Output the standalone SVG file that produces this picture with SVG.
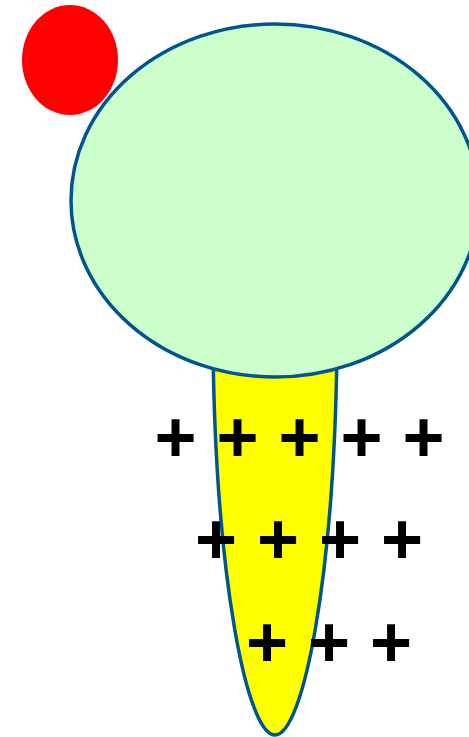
<svg xmlns="http://www.w3.org/2000/svg" width="469" height="737" viewBox="0 0 469 737">
<style>
.plus{font-family:"Liberation Sans",Arial,sans-serif;font-weight:bold;font-size:72px;fill:#000;text-anchor:middle}
.outline{stroke:#00568c;stroke-width:3.5}
</style>
<rect width="469" height="737" fill="#fff"/>
<g id="cone"><path class="outline" fill="#ffff00" d="M 213 350 C 216 580 247 735 275 735 C 303 735 334 580 337 350 Z"/></g>
<g id="scoop"><ellipse class="outline" cx="275" cy="200.5" rx="204" ry="176.5" fill="#ccffcc"/></g>
<g id="cherry"><ellipse cx="70" cy="60" rx="48" ry="55" fill="#ff0000"/></g>
<g id="sprinkles">
<text class="plus" x="175.5" y="462">+</text>
<text class="plus" x="237.5" y="462">+</text>
<text class="plus" x="299.5" y="462">+</text>
<text class="plus" x="361.5" y="462">+</text>
<text class="plus" x="423.5" y="462">+</text>
<text class="plus" x="216" y="564">+</text>
<text class="plus" x="278" y="564">+</text>
<text class="plus" x="340" y="564">+</text>
<text class="plus" x="402" y="564">+</text>
<text class="plus" x="267" y="667">+</text>
<text class="plus" x="329" y="667">+</text>
<text class="plus" x="391" y="667">+</text>
</g>
</svg>
